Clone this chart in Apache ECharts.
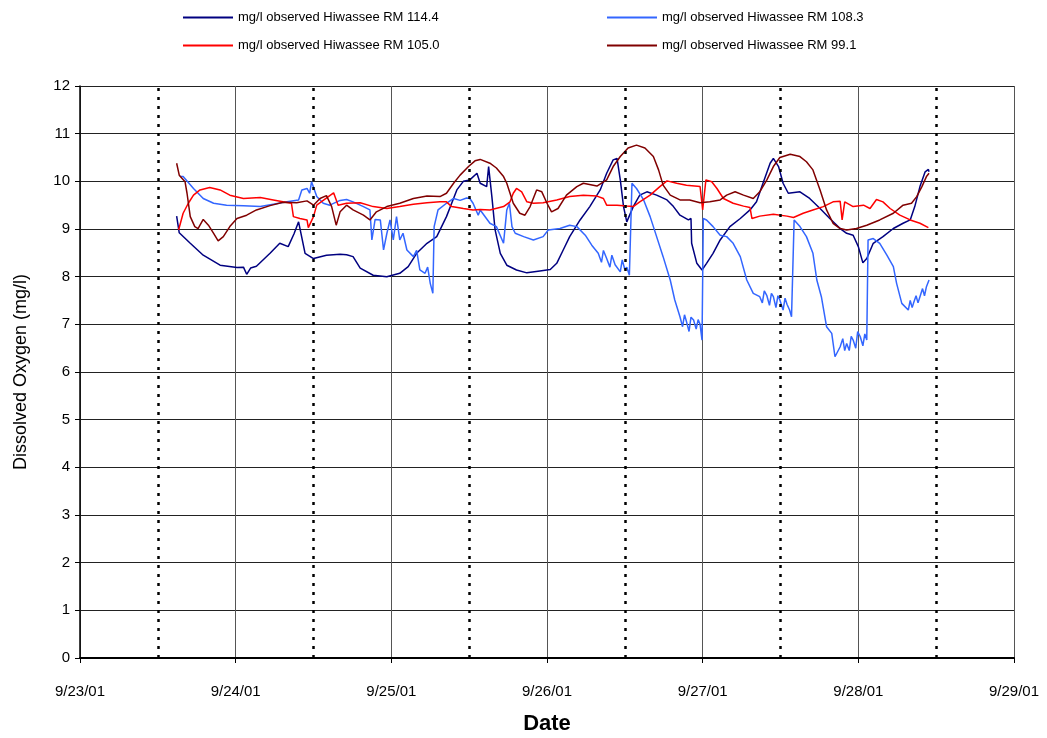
<!DOCTYPE html>
<html>
<head>
<meta charset="utf-8">
<script src="https://cdn.jsdelivr.net/npm/echarts@6/dist/echarts.min.js"></script>
<style>
  html, body { margin: 0; padding: 0; background: #fff; }
  #chart { width: 1047px; height: 738px; }
</style>
</head>
<body>
<div id="chart"></div>
<script>
// x values are hours since 9/23/01 00:00
var dateLabels = ['9/23/01', '9/24/01', '9/25/01', '9/26/01', '9/27/01', '9/28/01', '9/29/01'];
var noonHours = [12, 36, 60, 84, 108, 132];

var seriesNames = [
  'mg/l observed Hiwassee RM 114.4',
  'mg/l observed Hiwassee RM 108.3',
  'mg/l observed Hiwassee RM 105.0',
  'mg/l observed Hiwassee RM 99.1'
];
var seriesColors = ['#000080', '#3366ff', '#ff0000', '#800000'];

var rm1144 = [[14.9,9.27],[15.3,8.92],[17.0,8.70],[19.0,8.45],[21.6,8.24],[24.2,8.19],[25.2,8.20],[25.7,8.05],[26.3,8.18],
  [27.2,8.22],[29.3,8.49],[30.8,8.70],[32.1,8.63],[33.0,8.90],[33.7,9.15],[34.7,8.49],[36.0,8.38],[38.0,8.45],[40.1,8.47],
  [41.1,8.46],[42.1,8.42],[43.2,8.18],[45.2,8.03],[47.3,8.00],[49.3,8.07],[50.6,8.21],[51.9,8.49],[53.5,8.70],[55.0,8.84],
  [56.5,9.26],[58.1,9.82],[59.1,10.0],[60.1,10.03],[61.2,10.17],[61.7,9.96],[62.7,9.89],[63.0,10.31],[63.5,9.68],[64.0,8.98],
  [64.8,8.49],[65.8,8.24],[67.3,8.14],[68.9,8.08],[70.9,8.12],[72.5,8.15],[73.5,8.28],[74.5,8.56],[75.5,8.84],[77.1,9.19],
  [78.6,9.47],[80.2,9.82],[81.2,10.17],[82.2,10.45],[82.8,10.48],[83.3,10.03],[83.8,9.47],[84.3,9.15],[85.3,9.47],[86.3,9.71],
  [87.4,9.78],[88.9,9.71],[90.5,9.61],[91.5,9.47],[92.5,9.29],[93.8,9.19],[94.2,9.22],[94.3,8.70],[95.1,8.28],[95.9,8.14],
  [96.6,8.28],[97.6,8.49],[98.7,8.77],[100.2,9.05],[101.8,9.22],[103.3,9.40],[104.3,9.57],[105.3,9.96],[106.4,10.38],
  [106.9,10.48],[107.7,10.31],[108.4,9.96],[109.2,9.75],[109.5,9.71],[111.0,9.78],[112.5,9.64],[114.1,9.43],[115.6,9.22],
  [117.2,9.01],[118.2,8.91],[119.2,8.87],[120.0,8.63],[120.7,8.29],[121.3,8.38],[122.3,8.70],[123.8,8.84],[125.4,9.01],
  [126.9,9.12],[128.0,9.19],[128.7,9.47],[129.5,9.89],[130.3,10.2],[130.8,10.25],[130.9,10.2]];

var rm1083 = [[15.4,10.1],[15.9,10.1],[17.5,9.85],[19.0,9.64],[20.6,9.54],[22.6,9.50],[25.2,9.49],[27.8,9.47],[29.8,9.52],
  [31.9,9.57],[33.7,9.61],[34.2,9.82],[35.0,9.85],[35.4,9.75],[35.7,9.99],[36.0,10.03],[36.5,9.68],[37.5,9.54],[38.5,9.50],
  [40.1,9.60],[41.1,9.62],[42.1,9.57],[43.7,9.47],[44.7,9.40],[45.0,8.77],[45.5,9.2],[46.3,9.19],[46.8,8.56],[47.3,8.9],
  [47.8,9.19],[48.3,8.77],[48.8,9.26],[49.3,8.77],[49.8,8.91],[50.4,8.56],[51.4,8.42],[51.9,8.55],[52.4,8.14],[53.2,8.07],
  [53.6,8.2],[54.0,7.86],[54.4,7.65],[54.6,9.05],[55.2,9.40],[56.5,9.54],[57.6,9.64],[58.6,9.60],[59.6,9.65],[60.1,9.64],
  [60.6,9.54],[61.4,9.29],[61.7,9.40],[63.2,9.12],[64.2,9.05],[65.3,8.70],[65.8,9.40],[66.2,9.54],[66.6,9.05],[67.1,8.91],
  [68.4,8.84],[69.9,8.77],[71.4,8.84],[72.2,8.98],[74.0,9.01],[75.5,9.08],[76.6,9.05],[77.9,8.87],[78.9,8.66],[79.9,8.49],
  [80.4,8.3],[80.7,8.55],[81.2,8.38],[81.7,8.2],[82.0,8.45],[82.5,8.25],[82.8,8.28],[83.3,8.1],[83.6,8.35],[84.0,8.15],
  [84.3,8.20],[84.7,8.03],[85.0,8.0],[85.1,9.96],[85.8,9.85],[86.9,9.61],[87.9,9.26],[88.9,8.84],[89.9,8.42],[91.0,7.93],
  [91.7,7.51],[92.5,7.16],[92.9,6.95],[93.2,7.2],[93.5,7.06],[93.9,6.85],[94.2,7.15],[94.6,7.09],[95.0,6.9],[95.3,7.1],
  [95.6,7.0],[95.9,6.67],[96.1,9.22],[96.6,9.19],[97.6,9.05],[98.7,8.87],[99.7,8.84],[100.7,8.70],[101.8,8.42],[102.8,7.93],
  [103.8,7.65],[104.8,7.58],[105.2,7.45],[105.5,7.7],[105.9,7.6],[106.3,7.4],[106.6,7.65],[106.9,7.58],[107.3,7.35],
  [107.6,7.6],[107.9,7.51],[108.4,7.3],[108.7,7.55],[109.0,7.42],[109.4,7.3],[109.7,7.16],[110.1,9.19],[111.0,9.05],
  [112.0,8.84],[113.0,8.49],[113.6,7.93],[114.3,7.58],[115.1,6.95],[115.9,6.81],[116.4,6.32],[117.2,6.53],[117.6,6.7],
  [117.9,6.45],[118.2,6.60],[118.6,6.45],[118.9,6.75],[119.2,6.67],[119.6,6.5],[119.9,6.85],[120.3,6.74],[120.7,6.55],
  [121.0,6.8],[121.3,6.67],[121.5,8.77],[122.3,8.80],[123.3,8.70],[124.4,8.45],[125.4,8.21],[125.9,7.86],[126.7,7.44],
  [127.7,7.30],[128.0,7.5],[128.3,7.35],[128.5,7.44],[128.9,7.6],[129.2,7.45],[129.5,7.58],[129.9,7.75],[130.2,7.6],
  [130.5,7.79],[130.9,7.93]];

var rm1050 = [[15.2,8.98],[15.9,9.33],[16.7,9.54],[17.5,9.71],[18.5,9.82],[20.0,9.87],[21.6,9.82],[23.1,9.71],[25.2,9.64],
  [27.8,9.66],[29.8,9.61],[31.3,9.57],[32.6,9.54],[32.9,9.26],[33.9,9.22],[35.0,9.19],[35.2,9.03],[36.0,9.26],[36.5,9.50],
  [37.5,9.60],[39.1,9.76],[39.8,9.50],[41.1,9.54],[43.2,9.55],[45.2,9.47],[47.3,9.43],[49.3,9.47],[51.4,9.52],[53.5,9.55],
  [55.5,9.57],[56.5,9.57],[57.3,9.47],[59.1,9.43],[60.6,9.40],[61.7,9.41],[63.2,9.40],[65.3,9.47],[66.3,9.57],[66.8,9.75],
  [67.3,9.85],[68.1,9.78],[68.9,9.57],[69.9,9.54],[71.4,9.55],[73.5,9.61],[75.5,9.68],[77.6,9.71],[79.7,9.69],[80.7,9.64],
  [81.2,9.50],[82.8,9.50],[84.3,9.48],[85.3,9.47],[86.3,9.57],[87.9,9.71],[89.4,9.89],[90.5,10.01],[92.0,9.96],[93.5,9.92],
  [95.6,9.89],[96.0,9.40],[96.5,10.03],[97.4,9.99],[98.2,9.85],[99.2,9.64],[100.7,9.54],[102.3,9.48],[103.3,9.45],
  [103.6,9.22],[104.8,9.27],[106.9,9.31],[109.0,9.27],[110.0,9.24],[111.5,9.33],[113.0,9.40],[114.6,9.47],[116.1,9.57],
  [117.2,9.58],[117.5,9.19],[117.9,9.57],[119.2,9.47],[120.8,9.50],[121.8,9.43],[122.8,9.62],[123.8,9.57],[124.9,9.43],
  [126.4,9.29],[128.0,9.19],[129.5,9.12],[130.8,9.03]];

var rm991 = [[14.9,10.38],[15.3,10.13],[16.2,9.99],[16.5,9.75],[17.0,9.26],[17.7,9.05],[18.2,9.01],[19.0,9.20],[19.8,9.08],
  [20.6,8.91],[21.3,8.75],[22.1,8.84],[23.1,9.05],[24.2,9.22],[25.7,9.29],[27.2,9.40],[29.3,9.49],[31.3,9.56],[33.4,9.55],
  [35.0,9.59],[36.0,9.50],[37.0,9.64],[38.0,9.70],[38.8,9.47],[39.5,9.08],[40.1,9.36],[41.1,9.50],[42.1,9.40],[43.7,9.29],
  [44.7,9.19],[45.7,9.36],[47.3,9.47],[49.3,9.54],[51.4,9.64],[53.5,9.69],[55.5,9.68],[56.5,9.75],[57.6,9.96],[58.6,10.13],
  [59.9,10.31],[60.9,10.43],[61.7,10.46],[63.2,10.38],[64.2,10.28],[65.3,10.10],[65.8,9.96],[66.8,9.54],[67.8,9.33],
  [68.6,9.29],[69.4,9.47],[70.4,9.82],[71.2,9.78],[72.0,9.54],[72.7,9.36],[73.7,9.43],[75.0,9.71],[76.6,9.89],[77.6,9.96],
  [79.7,9.90],[81.2,10.03],[82.2,10.31],[83.3,10.52],[84.5,10.70],[85.8,10.76],[87.1,10.70],[88.4,10.52],[89.2,10.24],
  [89.9,9.92],[91.0,9.71],[92.5,9.61],[94.0,9.61],[95.6,9.55],[97.1,9.57],[98.7,9.61],[99.7,9.71],[101.0,9.78],[102.3,9.71],
  [103.8,9.64],[104.8,9.78],[105.9,10.03],[106.9,10.31],[107.9,10.50],[109.5,10.57],[111.0,10.52],[112.0,10.41],[113.0,10.24],
  [114.1,9.82],[115.1,9.40],[116.1,9.12],[117.2,9.01],[118.2,8.98],[119.7,9.01],[121.3,9.08],[123.3,9.19],[125.4,9.33],
  [126.9,9.50],[128.2,9.54],[129.0,9.68],[129.8,9.89],[130.5,10.10],[130.9,10.17]];

var seriesData = [rm1144, rm1083, rm1050, rm991];

var chart = echarts.init(document.getElementById('chart'), null, { renderer: 'canvas' });
var font = '"Liberation Sans", Arial, sans-serif';

var series = seriesData.map(function (d, i) {
  return {
    name: seriesNames[i],
    type: 'line',
    data: d,
    symbol: 'none',
    lineStyle: { color: seriesColors[i], width: 1.5 },
    itemStyle: { color: seriesColors[i] },
    z: 3
  };
});

// dotted noon lines
series.push({
  name: 'noon',
  type: 'line',
  data: [],
  markLine: {
    silent: true,
    symbol: 'none',
    label: { show: false },
    lineStyle: { color: '#000', type: [3, 6], width: 2.5 },
    data: noonHours.map(function (h) { return { xAxis: h }; })
  },
  z: 2
});

function legendBlock(names, left) {
  return {
    data: names,
    orient: 'vertical', left: left, top: 11, padding: 0, itemGap: 15,
    itemWidth: 50, itemHeight: 2, icon: 'rect',
    textStyle: { fontFamily: font, fontSize: 13, color: '#000' }
  };
}

var option = {
  backgroundColor: '#fff',
  animation: false,
  textStyle: { fontFamily: font },
  grid: { left: 80, right: 33, top: 86, bottom: 80, containLabel: false, outerBoundsMode: 'none' },
  legend: [
    legendBlock([seriesNames[0], seriesNames[2]], 183),
    legendBlock([seriesNames[1], seriesNames[3]], 607)
  ],
  xAxis: {
    type: 'value',
    min: 0, max: 144, interval: 24,
    name: 'Date',
    nameLocation: 'middle',
    nameGap: 55,
    nameTextStyle: { fontFamily: font, fontSize: 22, fontWeight: 'bold', color: '#000' },
    axisLine: { lineStyle: { color: '#000', width: 2 } },
    axisTick: { show: true, length: 5, lineStyle: { color: '#000' } },
    axisLabel: {
      fontFamily: font, fontSize: 15, color: '#000', margin: 26,
      formatter: function (v) { return dateLabels[Math.round(v / 24)]; }
    },
    splitLine: { show: true, lineStyle: { color: '#555', width: 1 } }
  },
  yAxis: {
    type: 'value',
    min: 0, max: 12, interval: 1,
    name: 'Dissolved Oxygen (mg/l)',
    nameLocation: 'middle',
    nameGap: 50,
    nameTextStyle: { fontFamily: font, fontSize: 18, color: '#000' },
    axisLine: { show: true, lineStyle: { color: '#000', width: 1.5 } },
    axisTick: { show: true, length: 5, lineStyle: { color: '#000' } },
    axisLabel: { fontFamily: font, fontSize: 15, color: '#000', margin: 10 },
    splitLine: { show: true, lineStyle: { color: '#222', width: 1 } }
  },
  series: series
};

chart.setOption(option);
</script>
</body>
</html>
